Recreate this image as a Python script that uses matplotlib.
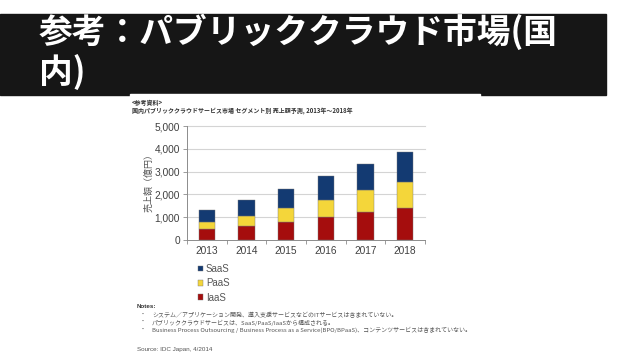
import matplotlib as mpl
import matplotlib.pyplot as plt
from matplotlib.patches import Rectangle, Patch
import numpy as np

JP = ["Noto Sans CJK JP", "DejaVu Sans"]
NUM = ["Liberation Sans", "DejaVu Sans"]

# ---- data (億円) ----
years = ["2013", "2014", "2015", "2016", "2017", "2018"]
iaas = [470, 620, 800, 1000, 1230, 1420]
paas = [320, 450, 600, 770, 950, 1125]
saas = [540, 665, 850, 1025, 1155, 1300]
yticks = [0, 1000, 2000, 3000, 4000, 5000]

C_SAAS = "#133a72"
C_PAAS = "#f4d63a"
C_IAAS = "#a50d0d"
GRID = "#d4d4d4"
AX = "#8c8c8c"
TXT = "#404040"

W, H = 638, 359
fig = plt.figure(figsize=(W / 100, H / 100), dpi=100)
fig.patch.set_facecolor("white")


def fx(x):
    return x / W


def fy(y):
    return 1 - y / H


# ---- slide title band ----
fig.patches.append(Rectangle((0, fy(95)), fx(606), fy(14) - fy(95),
                             transform=fig.transFigure, color="#161616", zorder=-2))
fig.patches.append(Rectangle((fx(130), fy(359)), fx(350), fy(93.5) - fy(359),
                             transform=fig.transFigure, color="white", zorder=-1))
fig.text(fx(39), fy(32), "参考：パブリッククラウド市場(国", family=JP, fontsize=24.3,
         fontweight="bold", color="white", va="center", ha="left")
fig.text(fx(39), fy(72), "内)", family=JP, fontsize=24.3,
         fontweight="bold", color="white", va="center", ha="left")

# ---- embedded chart captions ----
fig.text(fx(132), fy(102), "<参考資料>", family=JP, fontsize=4.3,
         fontweight="bold", color="#333333", va="center")
fig.text(fx(132), fy(111),
         "国内パブリッククラウドサービス市場 セグメント別 売上額予測, 2013年～2018年",
         family=JP, fontsize=4.3, fontweight="bold", color="#333333", va="center")

# ---- stacked bars ----
ax = fig.add_axes([fx(187), fy(240), fx(425) - fx(187), fy(126) - fy(240)])
x = np.arange(len(years))
bw = 0.42
ax.bar(x, iaas, bw, color=C_IAAS, edgecolor="#777777", linewidth=0.3, zorder=3)
ax.bar(x, paas, bw, bottom=iaas, color=C_PAAS, edgecolor="#777777",
       linewidth=0.3, zorder=3)
bottom2 = [a + b for a, b in zip(iaas, paas)]
ax.bar(x, saas, bw, bottom=bottom2, color=C_SAAS, edgecolor="#777777",
       linewidth=0.3, zorder=3)

ax.set_xlim(-0.5, len(years) - 0.5)
ax.set_ylim(0, 5000)
ax.set_yticks(yticks)
ax.set_yticklabels([f"{v:,}" for v in yticks], family=NUM, fontsize=7.3, color=TXT)
ax.set_xticks(x)
ax.set_xticklabels(years, family=NUM, fontsize=7.3, color=TXT)
ax.set_xticks(np.arange(-0.5, len(years)), minor=True)
ax.tick_params(axis="x", which="major", length=0, pad=4)
ax.tick_params(axis="x", which="minor", length=3, color=AX, width=0.6)
ax.tick_params(axis="y", length=3, color=AX, width=0.6, pad=2)
for v in yticks[1:]:
    ax.axhline(v, color=GRID, linewidth=0.8, zorder=1, clip_on=False)
for s in ("top", "right"):
    ax.spines[s].set_visible(False)
for s in ("left", "bottom"):
    ax.spines[s].set_color(AX)
    ax.spines[s].set_linewidth(0.7)
ax.set_facecolor("none")

fig.text(fx(149), fy(180), "売上額（億円）", family=JP, fontsize=6.5, color="#555555",
         rotation=90, va="center", ha="center")

# ---- legend ----
handles = [Patch(facecolor=C_SAAS, edgecolor="#777777", linewidth=0.3, label="SaaS"),
           Patch(facecolor=C_PAAS, edgecolor="#777777", linewidth=0.3, label="PaaS"),
           Patch(facecolor=C_IAAS, edgecolor="#777777", linewidth=0.3, label="IaaS")]
leg = fig.legend(handles=handles, loc="upper left",
                 bbox_to_anchor=(fx(198), fy(264)), frameon=False,
                 prop={"family": NUM, "size": 7}, handlelength=0.55,
                 handleheight=0.55, handletextpad=0.25, labelspacing=0.45,
                 borderaxespad=0, borderpad=0)
for t in leg.get_texts():
    t.set_color("#555555")

# ---- notes ----
NOTE = "#555555"
fig.text(fx(137), fy(307), "Notes:", family=NUM, fontsize=4.5,
         fontweight="bold", color="#333333", va="center")
notes = ["システム／アプリケーション開発、導入支援サービスなどのITサービスは含まれていない。",
         "パブリッククラウドサービスは、SaaS/PaaS/IaaSから構成される。",
         "Business Process Outsourcing / Business Process as a Service(BPO/BPaaS)、コンテンツサービスは含まれていない。"]
for i, n in enumerate(notes):
    yy = 315 + i * 7.5
    fig.text(fx(140), fy(yy), "・", family=JP, fontsize=4.3, color=NOTE, va="center")
    fig.text(fx(152), fy(yy), n, family=JP, fontsize=4.3, color=NOTE, va="center")
fig.text(fx(137), fy(349), "Source: IDC Japan, 4/2014", family=NUM, fontsize=4.5,
         color=NOTE, va="center")

fig.savefig("out.png", dpi=100)
